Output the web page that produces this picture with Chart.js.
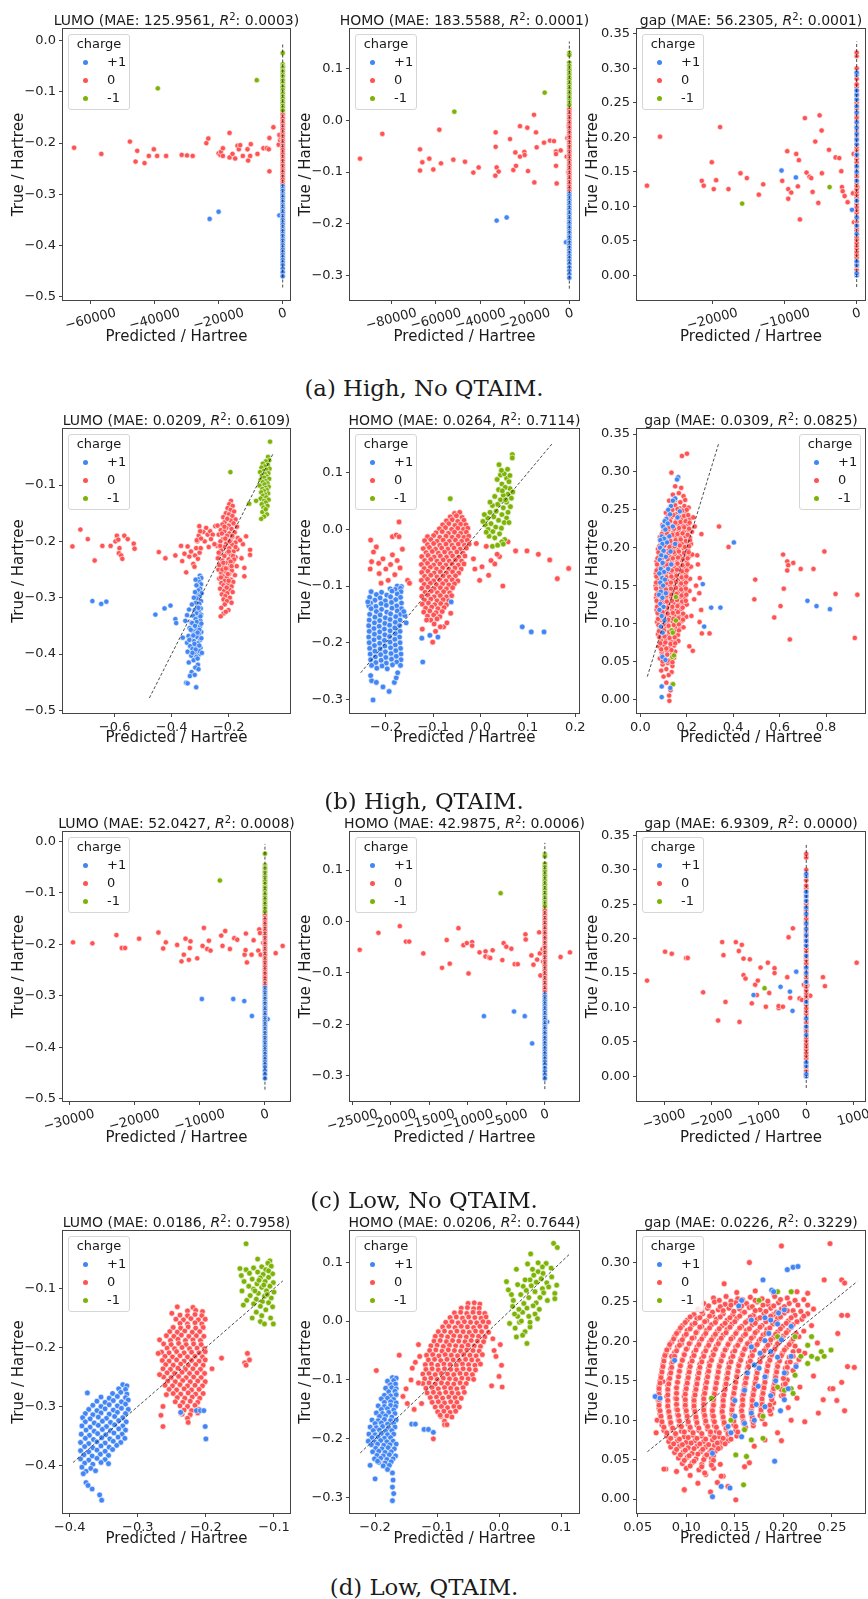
<!DOCTYPE html>
<html lang="en">
<head>
<meta charset="utf-8">
<title>Predicted vs true orbital energies</title>
<script src="https://cdn.jsdelivr.net/npm/chart.js@4.4.1/dist/chart.umd.min.js"></script>
<style>
  html, body { margin: 0; padding: 0; background: #fff; }
  #fig { position: relative; width: 868px; height: 1599px; overflow: hidden; font-family: "DejaVu Sans", sans-serif; color: #1a1a1a; }
  .panel { position: absolute; }
  .panel canvas { display: block; }
  .ttl { position: absolute; height: 18px; line-height: 18px; font-size: 14px; text-align: center; white-space: nowrap; }
  .ttl sup { font-size: 10px; line-height: 0; vertical-align: 5px; }
  .cap { position: absolute; left: 0; width: 848px; height: 28px; line-height: 28px; text-align: center; font-family: "DejaVu Serif", serif; font-size: 22.8px; }
  .lg { position: absolute; width: 62px; height: 76px; box-sizing: border-box; border: 1px solid #d6d6d6; border-radius: 3px; background: rgba(255,255,255,0.85); font-size: 13px; }
  .lg .head { position: absolute; left: 0; top: 0; width: 100%; line-height: 18px; text-align: center; }
  .lg .row { position: absolute; left: 0; width: 100%; height: 18px; line-height: 18px; }
  .lg .dot { position: absolute; left: 13.5px; top: 6.5px; width: 5px; height: 5px; border-radius: 50%; }
  .lg .lab { position: absolute; left: 38px; }
</style>
</head>
<body>
<div id="fig"></div>
<script>
const FONT = '"DejaVu Sans", sans-serif';
const BLUE = '#4285f4', RED = '#ff5252', GREEN = '#7cb305';

const charges = ['+1', '0', '-1'];
const targets = ['LUMO', 'HOMO', 'gap'];
const captions = ['(a) High, No QTAIM.', '(b) High, QTAIM.', '(c) Low, No QTAIM.', '(d) Low, QTAIM.'];
const maeA = ['125.9561', '183.5588', '56.2305'], r2A = ['0.0003', '0.0001', '0.0001'];
const maeB = ['0.0209', '0.0264', '0.0309'], r2B = ['0.6109', '0.7114', '0.0825'];
const maeC = ['52.0427', '42.9875', '6.9309'], r2C = ['0.0008', '0.0006', '0.0000'];
const maeD = ['0.0186', '0.0206', '0.0226'], r2D = ['0.7958', '0.7644', '0.3229'];

// tick values
const yTicksLumo = [-0.5, -0.4, -0.3, -0.2, -0.1, 0.0];
const yTicksHomo = [-0.3, -0.2, -0.1, 0.0, 0.1];
const yTicksGap = [0.0, 0.05, 0.10, 0.15, 0.20, 0.25, 0.30, 0.35];
const xTicksA = [[-60000, -40000, -20000, 0], [-80000, -60000, -40000, -20000, 0], [-20000, -10000, 0]];
const xTicksB = [[-0.6, -0.4, -0.2], [-0.2, -0.1, 0.0, 0.1, 0.2], [0.0, 0.2, 0.4, 0.6, 0.8]];
const xTicksC = [[-30000, -20000, -10000, 0], [-25000, -20000, -15000, -10000, -5000, 0], [-3000, -2000, -1000, 0, 1000]];
const xTicksD = [[-0.4, -0.3, -0.2, -0.1], [-0.2, -0.1, 0.0, 0.1], [0.05, 0.10, 0.15, 0.20, 0.25]];

// y = x reference line ranges (Hartree)
const lumoNoQDiag = [-0.482, -0.005], homoNoQDiag = [-0.326, 0.153], gapNoQDiag = [-0.017, 0.339];
const bLumoDiag = [-0.478, -0.045], bHomoDiag = [-0.253, 0.153], bGapDiag = [0.03, 0.339];
const dLumoDiag = [-0.395, -0.087], dHomoDiag = [-0.224, 0.115], dGapDiag = [0.06, 0.276];

// points sitting on predicted ~ 0 (no QTAIM models): true values in mHa
const stackLumoNeg = [-24,-46,-50,-53,-58,-61,-66,-70,-75,-78,-83,-88,-91,-96,-101,-104,-109,-113,-118,-122,-127,-131,-136];
const stackLumoNeu = [-140,-144,-149,-152,-157,-161,-166,-170,-174,-179,-183,-187,-192,-196,-200,-205,-209,-213,-218,-222,-227,-231,-235,-240,-244,-249,-253,-257,-262,-266,-271,-276,-280];
const stackLumoPos = [-284,-289,-293,-298,-302,-306,-311,-315,-320,-324,-328,-333,-337,-342,-346,-350,-355,-359,-364,-368,-372,-377,-381,-386,-390,-395,-399,-404,-408,-413,-418,-423,-428,-433,-438,-445,-452,-460];
const stackHomoNeg = [131,127,112,106,101,97,92,88,83,79,74,70,65,61,56,52,47,43,38,34,30];
const stackHomoNeu = [25,21,16,12,7,3,-2,-6,-11,-15,-20,-24,-29,-33,-38,-42,-47,-51,-56,-60,-65,-69,-74,-78,-83,-87,-92,-96,-101,-105,-110,-114,-119,-123,-128,-132,-137];
const stackHomoPos = [-142,-146,-151,-155,-160,-164,-169,-173,-178,-182,-187,-191,-196,-200,-205,-209,-214,-218,-223,-227,-232,-237,-242,-247,-252,-257,-262,-267,-272,-278,-285,-291,-298,-305];
const stackGapNeu = [0,4,8,13,17,21,26,30,34,39,43,47,52,56,60,65,69,73,78,82,86,91,95,99,104,108,112,117,121,125,130,134,138,143,147,151,156,160,164,169,173,177,182,186,190,195,199,203,208,212,216,221,225,229,234,238,242,247,251,255,260,264,268,273,277,285,293,300,318,323];
const stackGapPos = [0,3,15,20,60,72,84,108,137,150,158,175,190,197,205,214,222,236,245,255,262,268,291,294];
const stackGapNeg = [19];

// (a) High, No QTAIM: [predicted Ha, true mHa] pairs
const aLumoNeu = [-65190,-209, -56680,-221, -47750,-197, -45980,-236, -45460,-215, -43180,-239, -41830,-225, -40270,-212, -39240,-225, -36430,-225, -31560,-223, -29900,-224, -28130,-225, -23870,-200, -23250,-191, -20030,-220, -19510,-223, -19300,-217, -18690,-225, -18690,-210, -16610,-180, -16610,-228, -15680,-221, -14850,-230, -14120,-205, -13700,-212, -13290,-204, -12460,-225, -11000,-212, -10800,-234, -10170,-225, -9970,-202, -7890,-221, -6020,-210, -4980,-210, -4360,-212, -4150,-255, -4150,-190, -2910,-169, -1250,-203, -830,-194, -620,-189, -1040,-184];
const aLumoPos = [-22830,-348, -20030,-334, -1040,-341];
const aLumoNeg = [-39030,-93, -8100,-77];
const aHomoNeu = [-94070,-74, -84040,-26, -67110,-56, -67110,-97, -66060,-81, -62920,-74, -61120,-95, -58420,-18, -57670,-83, -52130,-76, -46890,-80, -43140,-101, -40750,-91, -33110,-23, -33110,-51, -33260,-107, -32660,-91, -31760,-99, -26660,-36, -25170,-96, -24270,-62, -23970,-88, -22170,-11, -22170,-70, -20220,-61, -20070,-67, -18870,-14, -18580,-98, -15880,11, -15730,-120, -14980,-23, -14680,-52, -11380,-43, -8690,-39, -6890,-40, -5990,-60, -5990,-65, -5990,-88, -5690,-122, -3890,-58, -1200,-70, -900,-34, -300,-10, -450,-100];
const aHomoPos = [-32660,-194, -28160,-188, -1500,-236];
const aHomoNeg = [-51680,17, -11090,54];
const aGapNeu = [-29080,130, -27270,201, -21480,137, -21210,130, -20090,164, -19820,125, -19490,138, -18940,215, -17780,125, -16110,148, -15230,141, -13570,117, -12960,132, -10320,137, -9630,180, -9490,125, -9490,111, -9070,120, -8380,176, -8150,129, -8010,167, -7870,81, -7180,228, -6950,149, -6530,143, -6300,141, -6110,121, -5740,194, -5320,105, -5140,232, -4860,210, -4820,148, -3840,182, -2920,171, -2410,170, -2130,151, -2040,128, -1940,122, -1670,115, -1250,106, -510,119, -420,176, -370,77, 100,128];
const aGapPos = [-10420,152, -8430,142, -650,95];
const aGapNeg = [-15880,104, -3750,128];

// (c) Low, No QTAIM
const cLumoNeu = [-29410,-196, -26440,-198, -22760,-182, -21940,-207, -21430,-207, -19280,-189, -16320,-177, -15600,-208, -15190,-196, -13450,-201, -12790,-233, -12430,-220, -12170,-189, -11660,-230, -11510,-207, -11410,-194, -10380,-227, -9560,-203, -9360,-168, -8850,-209, -8590,-193, -8340,-212, -6700,-183, -6500,-203, -6090,-174, -5370,-209, -4710,-188, -4250,-191, -3120,-220, -2970,-211, -2920,-179, -2760,-235, -2050,-220, -1740,-192, -1020,-212, -870,-171, -770,-178, -660,-220, -260,-197, 1640,-217, 2710,-203];
const cLumoPos = [-9670,-306, -4860,-306, -3170,-310, -2000,-339, 410,-345];
const cLumoNeg = [-6910,-76];
const cHomoNeu = [-24040,-55, -21610,-22, -18830,-9, -18040,-39, -17610,-39, -15780,-62, -13350,-90, -12740,-36, -12350,-82, -11220,-13, -10570,-46, -10130,-42, -9910,-101, -9440,-40, -9440,-47, -8480,-60, -7700,-58, -7700,-68, -7260,-70, -7090,-71, -6780,-56, -5520,-75, -5350,-42, -5000,-49, -4350,-53, -3910,-83, -3520,-83, -2520,-25, -2480,-35, -1740,-66, -1480,-84, -1000,-74, -740,-21, -650,-62, -570,-105, -300,-54, -220,-78, 2040,-69, 3260,-60];
const cHomoPos = [-7910,-184, -4000,-175, -2610,-184, -1650,-237, 300,-195];
const cHomoNeg = [-5740,55];
const cGapNeu = [-3358,139, -2978,181, -2837,178, -2534,172, -2500,172, -2175,122, -1859,81, -1774,195, -1746,176, -1704,108, -1485,195, -1422,182, -1359,191, -1323,171, -1323,147, -1281,142, -1408,79, -1190,170, -1148,106, -1077,133, -1042,118, -1021,139, -964,158, -852,101, -810,165, -781,121, -669,157, -669,150, -584,99, -584,102, -493,101, -401,144, -373,202, -338,114, -282,215, -141,113, -92,111, -49,133, 21,132, 84,117, 352,144, 394,131, 1063,165];
const cGapPos = [-1112,118, -542,130, -345,123, -289,95, -211,152];
const cGapNeg = [-880,128];

// (b) High, QTAIM: [predicted, true] pairs in mHa
const bLumoPos = [-301,-261, -296,-265, -307,-267, -303,-272, -297,-276, -310,-279, -300,-284, -306,-287, -295,-292, -312,-294, -302,-298, -308,-303, -297,-306, -315,-309, -303,-311, -309,-316, -298,-319, -319,-322, -305,-324, -312,-328, -297,-330, -325,-332, -307,-336, -316,-338, -299,-341, -331,-344, -310,-346, -321,-349, -301,-351, -337,-354, -313,-356, -326,-359, -296,-361, -305,-364, -319,-365, -341,-368, -311,-370, -332,-373, -300,-375, -322,-377, -346,-380, -308,-381, -316,-385, -335,-386, -299,-389, -327,-391, -311,-393, -344,-396, -319,-398, -304,-401, -331,-403, -313,-405, -323,-411, -340,-415, -308,-419, -317,-424, -330,-432, -306,-427, -336,-439, -349,-451, -344,-452, -314,-459, -319,-437, -296,-372, -303,-357, -312,-343, -299,-333, -306,-318, -313,-301, -320,-382, -302,-395, -324,-367, -328,-345, -309,-362, -303,-385, -294,-398, -316,-392, -333,-357, -309,-408, -296,-346, -338,-375, -327,-398, -318,-350,
  -457,-330, -425,-319, -404,-314, -387,-338, -384,-345, -361,-371, -678,-306, -647,-311, -629,-307, -352,-341, -346,-331, -339,-321, -329,-312, -322,-300, -318,-290, -313,-278, -316,-268];
const bLumoNeu = [-192,-128, -198,-134, -186,-137, -204,-141, -193,-144, -181,-147, -210,-150, -199,-152, -187,-155, -219,-157, -205,-159, -176,-161, -193,-163, -214,-166, -183,-168, -222,-170, -200,-172, -171,-174, -208,-176, -190,-178, -228,-180, -215,-182, -179,-184, -198,-186, -235,-188, -206,-190, -186,-192, -168,-194, -220,-196, -194,-198, -229,-200, -176,-202, -209,-204, -188,-206, -240,-208, -214,-210, -198,-212, -170,-214, -226,-216, -183,-218, -205,-220, -232,-222, -192,-224, -215,-226, -176,-228, -238,-230, -200,-232, -222,-234, -186,-236, -210,-238, -230,-240, -195,-242, -172,-244, -218,-246, -204,-248, -236,-250, -189,-252, -212,-254, -226,-256, -198,-258, -178,-260, -220,-262, -206,-264, -233,-266, -192,-268, -214,-270, -184,-272, -226,-274, -202,-276, -218,-278, -190,-280, -210,-282, -230,-284, -197,-286, -216,-288, -186,-290, -205,-292, -224,-294, -212,-297, -196,-300, -218,-303, -206,-306, -190,-309, -214,-312, -226,-318, -201,-322, -218,-328, -228,-333, -210,-325,
  -205,-160, -215,-174, -197,-200, -185,-226, -230,-208, -222,-250, -200,-270, -210,-248, -181,-232, -176,-210, -224,-186, -212,-195, -193,-236, -233,-242, -207,-282, -200,-218, -188,-190, -219,-238, -235,-220, -203,-258, -190,-244, -227,-264,
  -139,-191, -125,-215, -125,-224, -145,-247, -145,-262, -150,-205, -160,-198, -155,-230,
  -289,-183, -274,-188, -265,-182, -256,-188, -247,-173, -239,-172, -262,-196, -250,-205, -270,-210, -284,-200, -279,-176,
  -445,-219, -422,-230, -387,-225, -367,-208, -363,-235, -355,-222, -344,-209, -338,-227, -332,-218, -324,-240, -318,-225, -314,-212, -310,-200, -305,-190, -303,-173, -300,-182, -308,-231, -302,-220, -312,-198, -298,-212, -349,-255, -320,-245, -297,-195,
  -748,-209, -720,-179, -694,-196, -670,-234, -643,-208, -614,-208, -597,-200, -592,-190, -587,-197, -583,-212, -585,-221, -577,-225, -573,-231, -566,-190, -554,-196, -533,-204, -530,-213];
const bLumoNeg = [-55,-23, -62,-50, -58,-56, -70,-58, -80,-62, -63,-64, -74,-67, -85,-69, -57,-71, -68,-73, -78,-75, -90,-77, -61,-79, -72,-81, -83,-83, -66,-85, -76,-87, -58,-89, -88,-91, -70,-93, -80,-95, -64,-97, -74,-99, -92,-101, -60,-103, -70,-105, -82,-107, -66,-109, -76,-111, -86,-113, -62,-115, -72,-117, -80,-119, -68,-122, -88,-124, -60,-126, -76,-128, -70,-131, -84,-134, -64,-137, -78,-140, -72,-144, -82,-148, -66,-152, -76,-156, -86,-160, -70,-143, -194,-77, -128,-133, -104,-128];

const bHomoPos = [-176,-100, -167,-101, -191,-105, -180,-106, -169,-104, -231,-110, -209,-111, -187,-109, -168,-110, -220,-115, -198,-116, -176,-114, -234,-120, -212,-121, -190,-119, -169,-120, -223,-125, -201,-126, -179,-124, -232,-130, -210,-131, -188,-129, -167,-130, -236,-135, -221,-136, -199,-134, -177,-135, -231,-140, -209,-141, -187,-139, -167,-140, -220,-145, -198,-146, -176,-144, -234,-150, -212,-151, -190,-149, -169,-150, -160,-152, -223,-155, -201,-156, -179,-154, -235,-160, -213,-161, -191,-159, -170,-160, -224,-165, -202,-166, -180,-164, -236,-170, -214,-171, -192,-169, -171,-170, -225,-175, -203,-176, -181,-174, -235,-180, -213,-181, -191,-179, -170,-180, -224,-185, -202,-186, -180,-184, -236,-190, -214,-191, -192,-189, -171,-190, -225,-195, -203,-196, -181,-194, -235,-200, -213,-201, -191,-199, -170,-200, -224,-205, -202,-206, -180,-204, -234,-210, -212,-211, -190,-209, -169,-210, -223,-215, -201,-216, -179,-214, -233,-220, -211,-221, -189,-219, -168,-220, -222,-225, -200,-226, -178,-224, -232,-230, -210,-231, -188,-229, -168,-230, -221,-235, -199,-236, -177,-234, -230,-240, -208,-241, -186,-239, -169,-240, -219,-245, -197,-246,
  -230,-267, -232,-258, -220,-270, -206,-278, -193,-286, -227,-301, -182,-270, -178,-262, -175,-253, -238,-128, -157,-165, -162,-145,
  -124,-192, -107,-187, -90,-190, -122,-234, -62,-128, 88,-172, 107,-181, 134,-181];
const bHomoNeu = [-55,28, -44,30,
  -64,22, -51,24, -39,21,
  -72,15, -60,17, -48,14, -35,16,
  -80,8, -67,10, -54,7, -42,9, -31,8,
  -87,1, -74,3, -61,0, -48,2, -36,0, -27,2,
  -94,-6, -81,-4, -68,-7, -55,-5, -42,-7, -30,-5,
  -112,-13, -99,-11, -86,-14, -73,-12, -60,-14, -47,-12, -35,-14, -25,-12,
  -118,-20, -105,-18, -92,-21, -79,-19, -66,-21, -53,-19, -40,-21, -28,-19,
  -112,-27, -99,-25, -86,-28, -73,-26, -60,-28, -47,-26, -34,-28, -24,-26,
  -121,-34, -108,-32, -95,-35, -82,-33, -69,-35, -56,-33, -43,-35, -30,-33,
  -115,-41, -102,-39, -89,-42, -76,-40, -63,-42, -50,-40, -37,-42,
  -124,-48, -111,-46, -98,-49, -85,-47, -72,-49, -59,-47, -46,-49, -33,-47,
  -118,-55, -105,-53, -92,-56, -79,-54, -66,-56, -53,-54, -40,-56,
  -125,-62, -112,-60, -99,-63, -86,-61, -73,-63, -60,-61, -47,-63, -35,-61,
  -119,-69, -106,-67, -93,-70, -80,-68, -67,-70, -54,-68, -41,-70,
  -124,-76, -111,-74, -98,-77, -85,-75, -72,-77, -59,-75, -46,-77,
  -118,-83, -105,-81, -92,-84, -79,-82, -66,-84, -53,-82,
  -125,-90, -112,-88, -99,-91, -86,-89, -73,-91, -60,-89, -48,-91,
  -119,-97, -106,-95, -93,-98, -80,-96, -67,-98, -55,-96,
  -124,-104, -111,-102, -98,-105, -85,-103, -72,-105, -59,-103,
  -117,-111, -104,-109, -91,-112, -78,-110, -65,-112,
  -124,-118, -111,-116, -98,-119, -85,-117, -72,-119, -61,-117,
  -118,-125, -105,-123, -92,-126, -79,-124, -67,-126,
  -123,-132, -110,-130, -97,-133, -84,-131, -72,-133,
  -116,-139, -103,-137, -90,-140, -77,-138,
  -120,-146, -107,-144, -94,-147, -81,-145,
  -112,-153, -99,-151, -86,-154,
  -105,-160, -92,-158,
  -98,-167,
  -232,-19, -220,-31, -226,-40, -230,-57, -215,-60, -206,-52, -233,-70, -214,-78, -200,-70, -190,-62, -186,-13, -178,-10, -172,-13, -172,13, -186,-45, -176,-55, -170,-68, -181,-80, -195,-90, -210,-95, -154,-90, -150,-95, -165,-35,
  -9,-25, -2,-90, 17,-81, 30,-61, 40,-48, 35,-44, 47,-100, 58,-22, 74,-38, 98,-38, 122,-44, 146,-54, 162,-87, 186,-69, 12,-30, 22,-55, 3,-66, -12,-70, -15,-52,
  -78,-172, -85,-172, -101,-199, -123,-176, -114,-160, -71,-165, -95,-180, -63,-148];
const bHomoNeg = [67,132, 67,126, 39,114, 42,96, 55,90, 50,98, 60,84, 45,80, 62,72, 52,74, 38,70, 58,62, 48,60, 65,55, 30,58, 42,52, 55,48, 36,44, 63,40, 25,42, 48,38, 58,30, 33,32, 20,30, 45,26, 55,20, 28,22, 15,20, 38,16, 50,12, 22,10, 10,8, 32,4, 44,2, 16,0, 26,-4, 40,-8, 18,-12, 30,-15, 51,-18, 25,-30, 36,-28, 45,-22, 12,-5, 60,12, 53,52, 46,68, 5,14, 20,48, 68,66, 35,88, -64,54, 48,-26, 8,26, 62,95, 57,106, 44,104];

const bGapPos = [163,293, 158,290, 150,265, 140,262, 132,255, 120,250, 128,244, 112,238, 105,235, 118,232, 98,228, 108,224, 92,215, 102,212, 86,210, 95,205, 115,207, 85,200, 100,196, 90,190, 110,188, 84,184, 96,180, 88,172, 102,168, 82,166, 94,160, 106,158, 86,154, 98,150, 88,142, 80,138, 95,134, 86,126, 100,122, 82,118, 92,110, 104,104, 88,96, 96,88, 110,140, 120,172, 125,215, 130,195, 140,228, 150,205, 160,240, 170,248, 133,178, 95,56, 108,52, 92,17, 92,3, 129,15, 269,152, 305,121, 345,121, 403,207, 275,96, 720,130, 759,123, 817,119];
const bGapNeu = [179,321, 201,324, 134,299, 160,291, 150,281, 176,279,
  140,270, 166,272, 186,268,
  124,262, 151,264, 172,260, 193,263,
  129,254, 150,256, 170,252, 190,255, 208,253,
  110,246, 133,248, 154,244, 177,247, 196,245,
  111,238, 132,240, 156,236, 178,239, 199,237, 214,239,
  95,230, 118,232, 141,228, 163,231, 185,229, 206,231,
  99,222, 121,224, 142,220, 166,223, 187,221, 208,223, 222,221,
  84,214, 105,216, 128,212, 151,215, 172,213, 195,215, 214,213,
  90,206, 113,208, 135,204, 156,207, 179,205, 200,207, 218,205,
  76,198, 99,200, 120,196, 143,199, 164,197, 187,199, 206,197,
  82,190, 104,192, 127,188, 148,191, 171,189, 192,191, 212,189, 224,191,
  70,182, 92,184, 115,180, 136,183, 158,181, 180,183, 200,181,
  78,174, 100,176, 122,172, 145,175, 166,173, 188,175, 208,173, 218,175,
  67,166, 88,168, 110,164, 132,167, 154,165, 176,167, 196,165,
  76,158, 96,160, 118,156, 141,159, 162,157, 184,159, 204,157, 214,159,
  66,150, 87,152, 106,148, 128,151, 150,149, 172,151, 192,149,
  77,142, 98,144, 118,140, 140,143, 162,141, 182,143, 200,141, 212,143,
  68,134, 89,136, 110,132, 132,135, 152,133, 172,135, 192,133,
  78,126, 100,128, 122,124, 144,127, 164,125, 184,127, 200,125,
  70,118, 92,120, 114,116, 136,119, 156,117, 176,119,
  80,110, 102,112, 124,108, 146,111, 168,109, 188,111, 198,109,
  72,102, 94,104, 116,100, 138,103, 158,101, 178,103,
  84,94, 106,96, 128,92, 150,95, 170,93, 186,95,
  76,86, 98,88, 120,84, 141,87, 162,85,
  88,78, 110,80, 132,76, 152,79, 164,77,
  80,70, 102,72, 124,68, 146,71,
  92,62, 114,64, 136,60, 150,63,
  84,54, 106,56, 128,52, 145,55,
  96,46, 118,48, 138,44,
  90,38, 112,40, 135,36,
  100,30, 122,32,
  112,22, 138,20,
  130,12, 125,-2, 124,5,
  234,228, 263,218, 339,228, 380,201, 248,178, 256,160, 254,140, 262,118, 298,87, 265,87, 255,102, 211,70, 226,64, 495,158, 491,132, 577,108, 604,123, 618,146, 615,191, 633,182, 637,177, 633,170, 659,180, 691,172, 746,172, 793,195, 841,139, 935,138, 644,79, 924,81, 240,150, 232,132, 245,190, 220,110, 228,240];
// second, interleaved layer of the dense gap column
const bGapNeuCore = [138,250, 160,251, 181,249, 200,250,
  120,242, 143,243, 166,241, 188,242, 206,243,
  106,234, 128,235, 151,233, 173,234, 195,235, 212,233,
  100,226, 122,227, 145,225, 167,226, 189,227, 210,225,
  92,218, 115,219, 138,217, 160,218, 182,219, 204,217,
  86,210, 108,211, 130,209, 152,210, 174,211, 196,209, 214,210,
  82,202, 104,203, 126,201, 148,202, 170,203, 192,201, 210,202,
  78,194, 100,195, 122,193, 144,194, 166,195, 188,193, 208,194,
  74,186, 96,187, 118,185, 140,186, 162,187, 184,185, 204,186,
  72,178, 94,179, 116,177, 138,178, 160,179, 182,177, 204,178,
  70,170, 92,171, 114,169, 136,170, 158,171, 180,169, 200,170,
  69,162, 90,163, 112,161, 134,162, 156,163, 178,161, 198,162,
  68,154, 89,155, 110,153, 132,154, 154,155, 176,153, 196,154,
  68,146, 90,147, 110,145, 132,146, 154,147, 176,145, 196,146,
  70,138, 92,139, 112,137, 134,138, 156,139, 178,137, 198,138,
  70,130, 92,131, 114,129, 136,130, 158,131, 180,129, 196,130,
  72,122, 94,123, 116,121, 138,122, 160,123, 182,121,
  74,114, 96,115, 118,113, 140,114, 162,115, 184,113,
  76,106, 98,107, 120,105, 142,106, 164,107, 184,105,
  78,98, 100,99, 122,97, 144,98, 166,99,
  80,90, 102,91, 124,89, 146,90, 166,91,
  82,82, 104,83, 126,81, 148,82,
  86,74, 108,75, 130,73, 150,74,
  90,66, 112,67, 134,65,
  94,58, 116,59, 138,57,
  96,50, 118,51, 138,49];
const bGapNeg = [150,263, 153,135, 153,104, 135,91, 140,88, 138,56, 141,20, 145,58];

// (d) Low, QTAIM: [predicted, true] pairs in mHa
const dLumoPos = [-322,-263, -316,-265,
  -328,-270, -318,-271,
  -374,-277, -337,-278, -325,-276, -316,-279,
  -354,-284, -342,-286, -330,-283, -318,-285,
  -360,-291, -348,-293, -336,-290, -324,-292, -314,-289,
  -366,-298, -354,-300, -342,-297, -330,-299, -318,-296,
  -372,-305, -360,-307, -348,-304, -336,-306, -324,-303, -314,-305,
  -377,-312, -366,-314, -354,-311, -342,-313, -330,-310, -318,-312,
  -381,-319, -370,-321, -358,-318, -346,-320, -334,-317, -322,-319,
  -377,-326, -364,-328, -352,-325, -340,-327, -328,-324, -317,-326,
  -382,-333, -370,-335, -358,-332, -346,-334, -334,-331, -322,-333,
  -376,-340, -364,-342, -352,-339, -340,-341, -328,-338, -318,-340,
  -383,-347, -371,-349, -359,-346, -347,-348, -335,-345, -323,-347,
  -377,-354, -365,-356, -353,-353, -341,-355, -329,-352, -319,-354,
  -384,-361, -372,-363, -360,-360, -348,-362, -336,-359, -325,-361,
  -378,-368, -366,-370, -354,-367, -342,-369, -331,-366,
  -384,-375, -372,-377, -360,-374, -348,-376, -337,-373,
  -379,-382, -367,-384, -355,-381, -343,-383,
  -384,-389, -372,-391, -360,-388, -348,-390,
  -378,-396, -366,-398, -354,-395, -343,-397,
  -382,-403, -369,-405,
  -376,-410, -362,-409,
  -380,-414, -376,-429, -373,-434, -367,-440, -356,-450, -353,-459,
  -237,-310, -214,-307, -208,-307, -203,-307, -201,-334, -200,-355];
const dLumoNeu = [-242,-131, -219,-132,
  -227,-138, -215,-137, -205,-139,
  -238,-145, -227,-146, -216,-144, -206,-146,
  -244,-152, -233,-153, -222,-151, -211,-153, -201,-152,
  -238,-159, -227,-160, -216,-158, -206,-160,
  -248,-166, -237,-167, -226,-165, -215,-167, -204,-166,
  -253,-173, -242,-174, -231,-172, -220,-174, -209,-173,
  -258,-180, -247,-181, -236,-179, -225,-181, -214,-180, -203,-181,
  -268,-187, -252,-188, -241,-186, -230,-188, -219,-187, -208,-188,
  -262,-194, -251,-195, -240,-193, -229,-195, -218,-194, -207,-195,
  -257,-201, -246,-202, -235,-200, -224,-202, -213,-201, -202,-202,
  -265,-208, -254,-209, -243,-207, -232,-209, -221,-208, -210,-209, -201,-207,
  -260,-215, -249,-216, -238,-214, -227,-216, -216,-215, -205,-216,
  -264,-222, -254,-223, -243,-221, -232,-223, -221,-222, -210,-223, -201,-221,
  -259,-229, -248,-230, -237,-228, -226,-230, -215,-229, -204,-230,
  -263,-236, -252,-237, -241,-235, -230,-237, -219,-236, -208,-237,
  -257,-243, -246,-244, -235,-242, -224,-244, -213,-243, -202,-244,
  -262,-250, -251,-251, -240,-249, -229,-251, -218,-250, -207,-251,
  -256,-257, -245,-258, -234,-256, -223,-258, -212,-257, -201,-258,
  -260,-264, -249,-265, -238,-263, -227,-265, -216,-264, -205,-265,
  -254,-271, -243,-272, -232,-270, -221,-272, -210,-271,
  -248,-278, -237,-279, -226,-277, -215,-279, -204,-278,
  -242,-285, -231,-286, -220,-284, -209,-286,
  -245,-292, -234,-293, -223,-291, -212,-293,
  -238,-299, -227,-300, -216,-298,
  -232,-306, -221,-307, -210,-305,
  -235,-313, -223,-314,
  -227,-320,
  -263,-334, -226,-327, -237,-311, -212,-311, -177,-218, -191,-236, -139,-210, -136,-221, -143,-226, -141,-230, -263,-300, -266,-315, -270,-210, -268,-246, -258,-280, -250,-142];
const dLumoNeg = [-141,-24, -124,-50, -106,-53, -109,-57, -150,-66, -141,-68, -130,-65, -118,-63, -104,-62, -112,-68, -124,-72, -136,-74, -148,-78, -116,-76, -102,-75, -108,-81, -120,-82, -132,-84, -144,-88, -113,-88, -101,-90, -125,-92, -137,-96, -106,-96, -118,-98, -130,-101, -147,-104, -111,-104, -100,-106, -123,-108, -135,-112, -114,-113, -104,-116, -126,-118, -140,-120, -117,-122, -108,-124, -130,-126, -120,-130, -102,-131, -145,-128, -112,-136, -126,-140, -118,-146, -105,-150, -120,-156, -114,-160, -101,-160, -132,-150, -110,-110, -115,-94, -122,-86, -108,-70, -128,-104];

const dHomoPos = [-172,-96, -166,-97,
  -180,-102, -170,-101,
  -175,-108, -167,-107,
  -183,-114, -173,-113, -166,-115,
  -178,-120, -168,-119,
  -185,-126, -175,-127, -166,-125,
  -190,-132, -180,-131, -170,-133,
  -185,-138, -175,-137, -166,-139,
  -195,-144, -185,-145, -175,-143, -167,-145,
  -190,-150, -180,-149, -170,-151,
  -198,-156, -188,-157, -178,-155, -168,-157,
  -193,-162, -183,-161, -173,-163,
  -205,-168, -195,-169, -185,-167, -175,-169, -166,-168,
  -200,-174, -190,-173, -180,-175, -170,-174,
  -208,-180, -198,-181, -188,-179, -178,-181, -168,-180,
  -203,-186, -193,-185, -183,-187, -173,-186,
  -210,-192, -200,-193, -190,-191, -180,-193, -170,-192,
  -205,-198, -195,-197, -185,-199, -175,-198,
  -211,-204, -201,-205, -191,-203, -181,-205, -171,-204,
  -206,-210, -196,-209, -186,-211, -176,-210, -166,-209,
  -199,-216, -189,-217, -179,-215, -169,-217,
  -204,-222, -194,-221, -184,-223, -174,-222,
  -197,-228, -187,-229, -177,-227, -167,-229,
  -201,-234, -191,-233, -181,-235, -171,-234,
  -194,-240, -184,-241, -174,-239,
  -187,-246, -177,-245,
  -172,-258, -171,-270, -172,-282, -170,-293, -172,-305, -200,-268, -180,-252, -208,-245, -196,-238,
  -141,-175, -135,-175, -121,-184, -114,-184, -106,-189];
const dHomoNeu = [-50,30, -40,31, -31,29,
  -61,22, -51,23, -41,21, -32,22,
  -72,14, -62,15, -52,13, -42,15, -32,14, -23,13,
  -79,6, -69,7, -59,5, -49,7, -39,6, -29,5, -21,7,
  -86,-2, -76,-1, -66,-3, -56,-1, -46,-2, -36,-3, -26,-1, -17,-2,
  -91,-10, -81,-9, -71,-11, -61,-9, -51,-10, -41,-11, -31,-9, -21,-10,
  -98,-18, -88,-17, -78,-19, -68,-17, -58,-18, -48,-19, -38,-17, -28,-18, -17,-19,
  -103,-26, -93,-25, -83,-27, -73,-25, -63,-26, -53,-27, -43,-25, -33,-26, -23,-27,
  -105,-34, -95,-33, -85,-35, -75,-33, -65,-34, -55,-35, -45,-33, -35,-34, -25,-35,
  -110,-42, -100,-41, -90,-43, -80,-41, -70,-42, -60,-43, -50,-41, -40,-42, -30,-43,
  -112,-50, -102,-49, -92,-51, -82,-49, -72,-50, -62,-51, -52,-49, -42,-50, -32,-51,
  -117,-58, -107,-57, -97,-59, -87,-57, -77,-58, -67,-59, -57,-57, -47,-58, -37,-59, -27,-57,
  -114,-66, -104,-65, -94,-67, -84,-65, -74,-66, -64,-67, -54,-65, -44,-66, -34,-67,
  -119,-74, -109,-73, -99,-75, -89,-73, -79,-74, -69,-75, -59,-73, -49,-74, -39,-75, -30,-73,
  -118,-82, -108,-81, -98,-83, -88,-81, -78,-82, -68,-83, -58,-81, -48,-82, -38,-83,
  -123,-90, -113,-89, -103,-91, -93,-89, -83,-90, -73,-91, -63,-89, -53,-90, -43,-91,
  -120,-98, -110,-97, -100,-99, -90,-97, -80,-98, -70,-99, -60,-97, -50,-98, -41,-99,
  -123,-106, -113,-105, -103,-107, -93,-105, -83,-106, -73,-107, -63,-105, -53,-106,
  -118,-114, -108,-113, -98,-115, -88,-113, -78,-114, -68,-115, -58,-113,
  -116,-122, -106,-121, -96,-123, -86,-121, -76,-122, -66,-123, -56,-121,
  -111,-130, -101,-129, -91,-131, -81,-129, -71,-130, -61,-131,
  -108,-138, -98,-137, -88,-139, -78,-137, -68,-138,
  -103,-146, -93,-145, -83,-147, -73,-145, -64,-146,
  -99,-154, -89,-153, -79,-155, -70,-153,
  -94,-162, -84,-161, -76,-163,
  -88,-170,
  -198,-84, -177,-107, -168,-108, -161,-58, -148,-140, -150,-115, -140,-80, -135,-70, -130,-105, -128,-60, -142,-100, -125,-140, -137,-150, -155,-128, 0,-94, -5,-60, 4,-75, -8,-50, 2,-40, -10,-30, 5,-112, -12,-110, -88,-176, -84,-176, -106,-200, -95,-160, -130,-40];
const dHomoNeg = [88,132, 94,125, 51,114, 63,99, 76,98, 46,97, 28,88, 12,67, 15,53, 39,59, 50,70, 63,84, 71,81, 77,65, 85,75, 93,61, 90,47, 90,38, 78,35, 60,31, 23,35, 17,-4, 28,-27, 45,-38, 42,-18, 50,-10, 33,-2, 30,8, 38,15, 45,22, 55,26, 66,40, 70,55, 58,50, 48,40, 40,30, 32,20, 25,12, 22,25, 35,45, 44,52, 52,60, 60,66, 68,72, 56,78, 42,70, 30,62, 20,45, 65,20, 72,48, 80,58, 84,90, 70,92, 54,88, 48,8, 58,12, 36,0, 26,-12, 38,-24, 62,4, 50,-2];

const dGapPos = [204,291, 210,294, 215,295, 179,278, 188,265, 190,263, 157,252, 154,245, 201,240, 195,236, 167,227, 181,230, 187,227, 194,222, 208,219, 198,202, 181,201, 167,193, 187,187, 208,181, 213,168, 201,160, 181,155, 174,143, 160,138, 187,131, 201,126, 181,117, 167,109, 150,105, 143,92, 146,84, 157,79, 170,100, 127,58, 136,16, 127,3, 145,14, 191,48, 68,130, 73,128, 88,176, 175,166, 194,180, 170,170, 192,150, 205,140, 185,210, 176,185, 163,160, 150,125, 172,120, 160,96, 197,112];
const dGapNeu = [152,262, 171,264, 190,261, 214,263,
  128,255, 141,257, 153,254, 166,256, 178,254, 191,257, 204,255, 221,253,
  118,248, 129,250, 140,247, 151,249, 162,248, 173,250, 184,247, 195,249, 206,248, 225,246,
  112,241, 122,242, 133,240, 144,242, 155,241, 165,243, 176,240, 187,242, 198,241, 210,239, 231,241,
  108,234, 117,235, 127,233, 138,235, 148,234, 158,236, 169,233, 180,235, 190,234, 201,236, 212,233, 225,235,
  101,227, 111,229, 121,226, 131,228, 142,227, 152,229, 163,226, 173,228, 184,227, 194,229, 205,226, 219,228,
  96,220, 106,221, 116,219, 126,221, 137,220, 147,222, 157,219, 168,221, 178,220, 189,222, 199,219, 210,221, 229,220,
  92,213, 101,214, 111,212, 121,214, 132,213, 142,215, 152,212, 162,214, 173,213, 183,215, 194,212, 205,214, 221,213,
  88,206, 98,207, 108,205, 118,207, 128,206, 138,208, 148,205, 159,207, 169,206, 179,208, 190,205, 200,207, 216,206,
  85,199, 94,200, 104,198, 114,200, 124,199, 134,201, 144,198, 155,200, 165,199, 175,201, 186,198, 196,200, 208,199, 235,198,
  82,192, 91,193, 101,191, 111,193, 121,192, 131,194, 141,191, 151,193, 161,192, 171,194, 182,191, 192,193, 203,192, 212,194,
  79,185, 88,186, 98,184, 108,186, 118,185, 128,187, 138,184, 148,186, 158,185, 168,187, 178,184, 189,186, 199,185, 210,187, 222,185,
  77,178, 86,179, 96,177, 106,179, 116,178, 126,180, 136,177, 146,179, 156,178, 166,180, 176,177, 186,179, 196,178, 206,180, 216,177,
  76,171, 85,172, 94,170, 104,172, 114,171, 124,173, 134,170, 144,172, 154,171, 164,173, 174,170, 184,172, 194,171, 204,173, 213,170,
  75,164, 84,165, 93,163, 103,165, 113,164, 123,166, 133,163, 143,165, 153,164, 163,166, 173,163, 183,165, 193,164, 202,166, 210,163,
  74,157, 83,158, 92,156, 102,158, 112,157, 122,159, 132,156, 142,158, 152,157, 162,159, 172,156, 182,158, 192,157, 202,159, 231,156,
  73,150, 82,151, 91,149, 101,151, 111,150, 121,152, 131,149, 141,151, 151,150, 161,152, 171,149, 181,151, 191,150, 204,151,
  72,143, 81,144, 90,142, 100,144, 110,143, 120,145, 130,142, 140,144, 150,143, 160,145, 170,142, 180,144, 190,143, 200,145, 217,142,
  72,136, 81,137, 90,135, 99,137, 109,136, 119,138, 129,135, 139,137, 149,136, 159,138, 169,135, 179,137, 189,136, 199,138,
  71,129, 80,130, 89,128, 98,130, 108,129, 118,131, 128,128, 138,130, 148,129, 158,131, 168,128, 178,130, 188,129, 198,131, 214,128,
  72,122, 81,123, 90,121, 99,123, 108,122, 118,124, 128,121, 138,123, 148,122, 158,124, 168,121, 178,123, 190,122,
  72,115, 81,116, 90,114, 99,116, 108,115, 118,117, 127,114, 137,116, 147,115, 157,117, 167,114, 177,116, 188,115, 205,116,
  73,108, 82,109, 91,107, 100,109, 109,108, 118,110, 127,107, 137,109, 147,108, 157,110, 167,107, 177,109, 187,108,
  74,101, 83,102, 92,100, 101,102, 110,101, 119,103, 128,100, 138,102, 148,101, 158,103, 168,100, 178,102,
  75,94, 84,95, 93,93, 102,95, 111,94, 120,96, 129,93, 139,95, 149,94, 159,96, 169,93, 181,95,
  77,87, 86,88, 95,86, 104,88, 113,87, 122,89, 131,86, 141,88, 151,87, 160,89,
  80,80, 89,81, 98,79, 107,81, 116,80, 125,82, 134,79, 143,81, 152,80,
  82,73, 91,74, 100,72, 109,74, 118,73, 127,75, 136,72, 143,74,
  84,66, 93,67, 102,65, 111,67, 120,66, 129,68, 135,65,
  88,59, 97,60, 106,58, 115,60, 124,59, 130,61,
  92,52, 101,53, 110,51, 119,53, 126,52,
  96,45, 106,46, 116,44, 126,46, 135,44,
  79,38, 100,39, 113,37, 128,39,
  104,30, 120,31, 138,29,
  112,20, 132,21,
  98,11, 125,9,
  198,321, 248,324, 165,300, 139,273, 242,278, 260,278, 263,274, 225,261, 260,233, 266,233, 256,210, 273,167, 266,168, 260,148, 255,125, 263,112, 248,140, 251,140, 241,126, 236,109, 222,98, 208,100, 194,84, 198,74, 181,75, 170,67, 165,46, 160,41, 143,16, 151,-1, 136,29, 119,33, 98,12, 77,38, 90,35, 95,197, 85,181, 76,149, 71,126, 70,100, 69,84];
// second, interleaved layer of the dense gap cloud
const dGapNeuCore = [134,252, 146,251, 158,253, 171,252, 184,251, 197,253, 212,252,
  123,245, 135,244, 146,246, 157,245, 168,244, 179,246, 190,245, 201,244, 215,246,
  116,238, 127,237, 138,239, 149,238, 160,237, 171,239, 182,238, 193,237, 204,239, 218,238,
  104,231, 114,230, 124,232, 135,231, 145,230, 155,232, 166,231, 176,230, 187,232, 197,231, 208,230, 221,232,
  99,224, 109,223, 119,225, 130,224, 140,223, 150,225, 161,224, 171,223, 182,225, 192,224, 203,223, 214,225,
  94,217, 104,216, 114,218, 124,217, 134,216, 145,218, 155,217, 165,216, 176,218, 186,217, 197,216, 208,218,
  90,210, 100,209, 110,211, 120,210, 130,209, 141,211, 151,210, 161,209, 171,211, 182,210, 192,209, 203,211, 213,210,
  87,203, 96,202, 106,204, 116,203, 126,202, 136,204, 146,203, 156,202, 167,204, 177,203, 187,202, 198,204, 210,203,
  83,196, 93,195, 103,197, 113,196, 123,195, 133,197, 143,196, 153,195, 163,197, 173,196, 184,195, 194,197, 206,196,
  80,189, 90,188, 100,190, 110,189, 120,188, 130,190, 140,189, 150,188, 160,190, 170,189, 180,188, 191,190, 201,189, 216,188,
  78,182, 88,181, 98,183, 108,182, 118,181, 128,183, 138,182, 148,181, 158,183, 168,182, 178,181, 188,183, 198,182, 210,181,
  77,175, 86,174, 96,176, 106,175, 116,174, 126,176, 136,175, 146,174, 156,176, 166,175, 176,174, 186,176, 196,175, 207,174,
  76,168, 85,167, 94,169, 104,168, 114,167, 124,169, 134,168, 144,167, 154,169, 164,168, 174,167, 184,169, 194,168, 204,167,
  75,161, 84,160, 93,162, 103,161, 113,160, 123,162, 133,161, 143,160, 153,162, 163,161, 173,160, 183,162, 193,161, 203,160,
  74,154, 83,153, 92,155, 102,154, 112,153, 122,155, 132,154, 142,153, 152,155, 162,154, 172,153, 182,155, 192,154, 200,153,
  73,147, 82,146, 91,148, 101,147, 111,146, 121,148, 131,147, 141,146, 151,148, 161,147, 171,146, 181,148, 191,147, 202,146,
  72,140, 81,139, 90,141, 100,140, 110,139, 120,141, 130,140, 140,139, 150,141, 160,140, 170,139, 180,141, 190,140, 198,139,
  72,133, 81,132, 90,134, 99,133, 109,132, 119,134, 129,133, 139,132, 149,134, 159,133, 169,132, 179,134, 189,133, 200,132,
  72,126, 81,125, 90,127, 99,126, 108,125, 118,127, 128,126, 138,125, 148,127, 158,126, 168,125, 178,127, 188,126,
  72,119, 81,118, 90,120, 99,119, 108,118, 118,120, 128,119, 138,118, 148,120, 158,119, 168,118, 178,120, 186,119,
  73,112, 82,111, 91,113, 100,112, 109,111, 118,113, 127,112, 137,111, 147,113, 157,112, 167,111, 177,113, 186,112,
  74,105, 83,104, 92,106, 101,105, 110,104, 119,106, 128,105, 138,104, 148,106, 158,105, 168,104, 176,106,
  75,98, 84,97, 93,99, 102,98, 111,97, 120,99, 129,98, 139,97, 149,99, 159,98, 169,97,
  77,91, 86,90, 95,92, 104,91, 113,90, 122,92, 131,91, 141,90, 151,92, 161,91,
  80,84, 89,83, 98,85, 107,84, 116,83, 125,85, 134,84, 143,83, 153,85,
  84,77, 93,76, 102,78, 111,77, 120,76, 129,78, 138,77, 146,76,
  87,70, 96,69, 105,71, 114,70, 123,69, 132,71, 140,70,
  90,63, 99,62, 108,64, 117,63, 126,62, 133,64,
  94,56, 103,55, 112,57, 121,56, 128,55,
  98,49, 108,48, 118,50, 128,49,
  104,42, 116,41, 126,43];
const dGapNeg = [194,263, 208,263, 175,252, 194,206, 212,206, 229,206, 225,195, 239,187, 249,189, 242,181, 235,178, 229,181, 218,181, 225,172, 212,157, 208,140, 201,138, 194,142, 210,134, 179,105, 160,88, 167,75, 179,77, 151,56, 162,54, 159,18, 126,128, 146,100];

// helpers
function pairs(arr, sx, sy) {
  const out = [];
  for (let i = 0; i < arr.length; i += 2) out.push({ x: arr[i] * sx, y: arr[i + 1] * sy });
  return out;
}
const stack = (arr) => arr.map(v => ({ x: 0, y: v / 1000 }));
const fmt = (v, d) => { const s = v.toFixed(d); return s.charAt(0) === '-' ? '\u2212' + s.slice(1) : s; };

// axes frame on all four sides
const frame = {
  id: 'frame',
  afterDatasetsDraw(chart) {
    const a = chart.chartArea, ctx = chart.ctx;
    ctx.save();
    ctx.strokeStyle = '#444';
    ctx.lineWidth = 1;
    ctx.strokeRect(a.left - 0.5, a.top - 0.5, a.right - a.left + 1, a.bottom - a.top + 1);
    ctx.restore();
  }
};

// x tick labels rotated 15 degrees and centred on the tick
const rotTicks = {
  id: 'rotTicks',
  afterDraw(chart, args, o) {
    if (!o || !o.on) return;
    const s = chart.scales.x, ctx = chart.ctx;
    const a = 15 * Math.PI / 180;
    ctx.save();
    ctx.font = '13px ' + FONT;
    ctx.fillStyle = '#222';
    ctx.textAlign = 'center';
    ctx.textBaseline = 'middle';
    s.ticks.forEach(t => {
      const txt = fmt(t.value, o.dec);
      const w = ctx.measureText(txt).width;
      const hb = w * Math.sin(a) + 12 * Math.cos(a);
      ctx.save();
      ctx.translate(s.getPixelForValue(t.value), s.top + 7 + hb / 2);
      ctx.rotate(-a);
      ctx.fillText(txt, 0, 0);
      ctx.restore();
    });
    ctx.restore();
  }
};
Chart.register(frame, rotTicks);

const rowBox = [
  { top: 29, h: 271, xh: 46, rot: true, cap: 374, tOff: 9 },
  { top: 429, h: 284, xh: 34, rot: false, cap: 787, tOff: 9 },
  { top: 832, h: 269, xh: 46, rot: true, cap: 1186, tOff: 9 },
  { top: 1231, h: 282, xh: 35, rot: false, cap: 1573, tOff: 9 },
];
const colBox = [{ left: 63, w: 227 }, { left: 350, w: 229 }, { left: 637, w: 228 }];

const A = (arr) => pairs(arr, 1, 1e-3);
const M = (arr) => pairs(arr, 1e-3, 1e-3);

const panels = [
  { r: 0, c: 0, mae: maeA[0], r2: r2A[0], xr: [-68656, 2281], yr: [-0.5064, 0.0229], xt: xTicksA[0], xd: 0, yt: yTicksLumo, yd: 1,
    pos: A(aLumoPos).concat(stack(stackLumoPos)), neu: A(aLumoNeu).concat(stack(stackLumoNeu)), neg: A(aLumoNeg).concat(stack(stackLumoNeg)), diag: lumoNoQDiag, lg: 'left' },
  { r: 0, c: 1, mae: maeA[1], r2: r2A[1], xr: [-98570, 4344], yr: [-0.348, 0.1773], xt: xTicksA[1], xd: 0, yt: yTicksHomo, yd: 1,
    pos: A(aHomoPos).concat(stack(stackHomoPos)), neu: A(aHomoNeu).concat(stack(stackHomoNeu)), neg: A(aHomoNeg).concat(stack(stackHomoNeg)), diag: homoNoQDiag, lg: 'left' },
  { r: 0, c: 2, mae: maeA[2], r2: r2A[2], xr: [-30465, 1157], yr: [-0.0358, 0.3572], xt: xTicksA[2], xd: 0, yt: yTicksGap, yd: 2,
    pos: A(aGapPos).concat(stack(stackGapPos)), neu: A(aGapNeu).concat(stack(stackGapNeu)), neg: A(aGapNeg).concat(stack(stackGapNeg)), diag: gapNoQDiag, lg: 'left' },
  { r: 1, c: 0, mae: maeB[0], r2: r2B[0], xr: [-0.781, 0.015], yr: [-0.5047, -0.0005], xt: xTicksB[0], xd: 1, yt: [-0.5, -0.4, -0.3, -0.2, -0.1], yd: 1,
    pos: M(bLumoPos), neu: M(bLumoNeu), neg: M(bLumoNeg), diag: bLumoDiag, lg: 'left' },
  { r: 1, c: 1, mae: maeB[1], r2: r2B[1], xr: [-0.2756, 0.2078], yr: [-0.324, 0.177], xt: xTicksB[1], xd: 1, yt: yTicksHomo, yd: 1,
    pos: M(bHomoPos), neu: M(bHomoNeu), neg: M(bHomoNeg), diag: bHomoDiag, lg: 'left', rad: 2.85 },
  { r: 1, c: 2, mae: maeB[2], r2: r2B[2], xr: [-0.0145, 0.968], yr: [-0.018, 0.3566], xt: xTicksB[2], xd: 1, yt: yTicksGap, yd: 2,
    pos: M(bGapPos), neu: M(bGapNeu).concat(M(bGapNeuCore)), neg: M(bGapNeg), diag: bGapDiag, lg: 'right' },
  { r: 2, c: 0, mae: maeC[0], r2: r2C[0], xr: [-30945, 3836], yr: [-0.504, 0.0181], xt: xTicksC[0], xd: 0, yt: yTicksLumo, yd: 1,
    pos: A(cLumoPos).concat(stack(stackLumoPos)), neu: A(cLumoNeu).concat(stack(stackLumoNeu)), neg: A(cLumoNeg).concat(stack(stackLumoNeg)), diag: lumoNoQDiag, lg: 'left' },
  { r: 2, c: 1, mae: maeC[1], r2: r2C[1], xr: [-25300, 4435], yr: [-0.349, 0.174], xt: xTicksC[1], xd: 0, yt: yTicksHomo, yd: 1,
    pos: A(cHomoPos).concat(stack(stackHomoPos)), neu: A(cHomoNeu).concat(stack(stackHomoNeu)), neg: A(cHomoNeg).concat(stack(stackHomoNeg)), diag: homoNoQDiag, lg: 'left' },
  { r: 2, c: 2, mae: maeC[2], r2: r2C[2], xr: [-3570, 1239], yr: [-0.036, 0.355], xt: xTicksC[2], xd: 0, yt: yTicksGap, yd: 2,
    pos: A(cGapPos).concat(stack(stackGapPos)), neu: A(cGapNeu).concat(stack(stackGapNeu)), neg: A(cGapNeg).concat(stack(stackGapNeg)), diag: gapNoQDiag, lg: 'left' },
  { r: 3, c: 0, mae: maeD[0], r2: r2D[0], xr: [-0.4098, -0.0765], yr: [-0.4807, -0.0024], xt: xTicksD[0], xd: 1, yt: [-0.4, -0.3, -0.2, -0.1], yd: 1,
    pos: M(dLumoPos), neu: M(dLumoNeu), neg: M(dLumoNeg), diag: dLumoDiag, lg: 'left', rad: 2.85 },
  { r: 3, c: 1, mae: maeD[1], r2: r2D[1], xr: [-0.2405, 0.129], yr: [-0.326, 0.153], xt: xTicksD[1], xd: 1, yt: yTicksHomo, yd: 1,
    pos: M(dHomoPos), neu: M(dHomoNeu), neg: M(dHomoNeg), diag: dHomoDiag, lg: 'left', rad: 2.85 },
  { r: 3, c: 2, mae: maeD[2], r2: r2D[2], xr: [0.0493, 0.284], yr: [-0.0177, 0.340], xt: xTicksD[2], xd: 2, yt: [0.0, 0.05, 0.10, 0.15, 0.20, 0.25, 0.30], yd: 2,
    pos: M(dGapPos), neu: M(dGapNeu).concat(M(dGapNeuCore)), neg: M(dGapNeg), diag: dGapDiag, lg: 'left', rad: 2.95 },
];

const fig = document.getElementById('fig');
const YW = 53, PT = 4, PR = 14;

function draw(p) {
  const R = rowBox[p.r], C = colBox[p.c];
  const W = YW + C.w + PR, H = PT + R.h + R.xh;
  const rad = p.rad || 2.65;
  const box = document.createElement('div');
  box.className = 'panel';
  box.style.left = (C.left - YW) + 'px';
  box.style.top = (R.top - PT) + 'px';
  box.style.width = W + 'px';
  box.style.height = H + 'px';
  const cv = document.createElement('canvas');
  cv.width = W; cv.height = H;
  cv.style.width = W + 'px'; cv.style.height = H + 'px';
  box.appendChild(cv);
  fig.appendChild(box);

  new Chart(cv, {
    type: 'scatter',
    data: {
      datasets: [
        { label: charges[0], data: p.pos, backgroundColor: BLUE, order: 1 },
        { label: charges[2], data: p.neg, backgroundColor: GREEN, order: 2 },
        { label: charges[1], data: p.neu, backgroundColor: RED, order: 3 },
        { type: 'line', label: 'y = x', data: [{ x: p.diag[0], y: p.diag[0] }, { x: p.diag[1], y: p.diag[1] }],
          borderColor: 'rgba(20,20,20,0.85)', borderWidth: 0.9, borderDash: [3, 2], pointRadius: 0, tension: 0, fill: false, order: 0 },
      ],
    },
    options: {
      responsive: false,
      animation: false,
      devicePixelRatio: 1,
      events: [],
      layout: { padding: { top: PT, right: PR, left: 0, bottom: 0 } },
      elements: { point: { radius: rad, borderWidth: 0.6, borderColor: '#ffffff', hoverRadius: rad } },
      plugins: { legend: { display: false }, tooltip: { enabled: false }, rotTicks: { on: R.rot, dec: p.xd } },
      scales: {
        x: {
          type: 'linear', min: p.xr[0], max: p.xr[1], bounds: 'data',
          afterBuildTicks: (s) => { s.ticks = p.xt.map(v => ({ value: v })); },
          afterFit: (s) => { s.height = R.xh; s.paddingLeft = 0; s.paddingRight = 0; },
          ticks: { callback: (v) => fmt(v, p.xd), color: R.rot ? 'rgba(0,0,0,0)' : '#222', font: { family: FONT, size: 13 }, padding: 3, maxRotation: 0, minRotation: 0, autoSkip: false },
          grid: { display: true, drawOnChartArea: false, drawTicks: true, tickLength: 4, color: '#444' },
          border: { display: false },
          title: { display: true, text: 'Predicted / Hartree', font: { family: FONT, size: 15 }, color: '#1a1a1a', padding: 0 },
        },
        y: {
          type: 'linear', min: p.yr[0], max: p.yr[1], bounds: 'data',
          afterBuildTicks: (s) => { s.ticks = p.yt.map(v => ({ value: v })); },
          afterFit: (s) => { s.width = YW; s.paddingTop = 0; s.paddingBottom = 0; },
          ticks: { callback: (v) => fmt(v, p.yd), color: '#222', font: { family: FONT, size: 13 }, padding: 3, autoSkip: false },
          grid: { display: true, drawOnChartArea: false, drawTicks: true, tickLength: 4, color: '#444' },
          border: { display: false },
          title: { display: true, text: 'True / Hartree', font: { family: FONT, size: 15 }, color: '#1a1a1a', padding: 0 },
        },
      },
    },
  });

  // title
  const t = document.createElement('div');
  t.className = 'ttl';
  t.style.left = (C.left - 40) + 'px';
  t.style.width = (C.w + 80) + 'px';
  t.style.top = (R.top - R.tOff - 9) + 'px';
  t.innerHTML = `${targets[p.c]} (MAE: ${p.mae}, <i>R</i><sup>2</sup>: ${p.r2})`;
  fig.appendChild(t);

  // legend
  const lg = document.createElement('div');
  lg.className = 'lg';
  lg.style.left = (p.lg === 'right' ? C.left + C.w - 4 - 62 : C.left + 5) + 'px';
  lg.style.top = (R.top + 5) + 'px';
  const cols = [BLUE, RED, GREEN];
  lg.innerHTML = '<div class="head">charge</div>' + charges.map((c, i) =>
    `<div class="row" style="top:${18 + i * 18}px"><span class="dot" style="background:${cols[i]}"></span><span class="lab">${c}</span></div>`).join('');
  fig.appendChild(lg);
}

panels.forEach(draw);

rowBox.forEach((R, i) => {
  const c = document.createElement('div');
  c.className = 'cap';
  c.style.top = R.cap + 'px';
  c.textContent = captions[i];
  fig.appendChild(c);
});
</script>
</body>
</html>
